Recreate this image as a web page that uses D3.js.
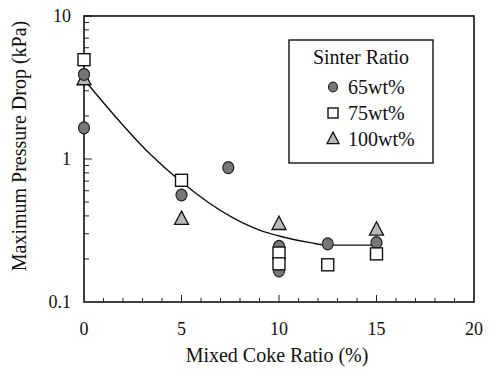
<!DOCTYPE html>
<html>
<head>
<meta charset="utf-8">
<script src="https://cdn.jsdelivr.net/npm/d3@7"></script>
<style>
  body { margin: 0; background: #fff; }
</style>
</head>
<body>
<div id="chart"></div>
<script>
// values
let xTicks = [0, 5, 10, 15, 20]
let yTicks = [0.1, 1, 10]
let seriesNames = ['65wt%', '75wt%', '100wt%']

let coke65 = [0, 0, 5, 7.4, 10, 10, 12.5, 15]
let drop65 = [3.9, 1.65, 0.56, 0.87, 0.245, 0.165, 0.255, 0.26]

let coke75 = [0, 5, 10, 10, 12.5, 15]
let drop75 = [4.95, 0.71, 0.22, 0.185, 0.182, 0.217]

let coke100 = [0, 5, 10, 15]
let drop100 = [3.6, 0.38, 0.35, 0.32]

let fitX = [0, 3.4, 5, 7.6, 9, 10.2, 11.6, 12.5, 15]
let fitY = [3.6, 1.08, 0.69, 0.39, 0.318, 0.285, 0.26, 0.25, 0.25]

let svgWidth = 492
let svgHeight = 369
let padding = { left: 84, right: 18, top: 16, bottom: 67 }
let serif = "'Liberation Serif', 'Times New Roman', serif"

let svg = d3.select('#chart').append('svg')
    .attr('width', svgWidth)
    .attr('height', svgHeight)
    .style('font-family', serif)

let x = d3.scaleLinear()
    .domain([0, 20])
    .range([padding.left, svgWidth - padding.right])
let y = d3.scaleLog()
    .domain([0.1, 10])
    .range([svgHeight - padding.bottom, padding.top])

// inward ticks on the bottom axis, every 1 %
let minorX = d3.range(1, 20)
svg.append('g')
    .selectAll('line')
    .data(minorX)
    .enter()
    .append('line')
    .attr('x1', d => x(d))
    .attr('x2', d => x(d))
    .attr('y1', y(0.1))
    .attr('y2', d => y(0.1) - (d % 5 == 0 ? 7 : 4))
    .attr('stroke', '#222')
    .attr('stroke-width', 1)

// inward log ticks on the left axis
let minorY = []
;[0.1, 1].forEach(dec => {
    for (let k = 2; k <= 10; k++) minorY.push(dec * k)
})
svg.append('g')
    .selectAll('line')
    .data(minorY)
    .enter()
    .append('line')
    .attr('x1', x(0))
    .attr('x2', d => x(0) + (Math.abs(d - 1) < 1e-9 || Math.abs(d - 10) < 1e-9 ? 8 : 5))
    .attr('y1', d => y(d))
    .attr('y2', d => y(d))
    .attr('stroke', '#222')
    .attr('stroke-width', 1)

// frame
svg.append('rect')
    .attr('x', x(0))
    .attr('y', y(10))
    .attr('width', x(20) - x(0))
    .attr('height', y(0.1) - y(10))
    .attr('fill', 'none')
    .attr('stroke', '#111')
    .attr('stroke-width', 1.6)

// tick labels
svg.append('g')
    .selectAll('text')
    .data(xTicks)
    .enter()
    .append('text')
    .attr('x', d => x(d))
    .attr('y', 335)
    .attr('text-anchor', 'middle')
    .attr('font-size', 18)
    .attr('fill', '#111')
    .text(d => d)

svg.append('g')
    .selectAll('text')
    .data(yTicks)
    .enter()
    .append('text')
    .attr('x', 71)
    .attr('y', d => y(d) + 6)
    .attr('text-anchor', 'end')
    .attr('font-size', 18)
    .attr('fill', '#111')
    .text(d => d)

// axis titles
svg.append('text')
    .attr('x', 277)
    .attr('y', 362)
    .attr('text-anchor', 'middle')
    .attr('font-size', 20)
    .attr('fill', '#111')
    .text('Mixed Coke Ratio (%)')

svg.append('g')
    .attr('transform', `translate(26, 146) rotate(-90)`)
    .append('text')
    .attr('text-anchor', 'middle')
    .attr('font-size', 20)
    .attr('fill', '#111')
    .text('Maximum Pressure Drop (kPa)')

// fitted curve
let line = d3.line()
    .x((d, i) => x(fitX[i]))
    .y(d => y(d))
    .curve(d3.curveMonotoneX)
svg.append('path')
    .attr('d', line(fitY))
    .attr('fill', 'none')
    .attr('stroke', '#111')
    .attr('stroke-width', 1.4)

// marker drawers
function drawCircle(g, cx, cy, r) {
    g.append('ellipse')
        .attr('cx', cx).attr('cy', cy)
        .attr('rx', r).attr('ry', r * 1.08)
        .attr('fill', '#777')
        .attr('stroke', '#222')
        .attr('stroke-width', 1.2)
}
function drawSquare(g, cx, cy, s) {
    g.append('rect')
        .attr('x', cx - s / 2).attr('y', cy - s / 2)
        .attr('width', s).attr('height', s)
        .attr('fill', '#fff')
        .attr('stroke', '#111')
        .attr('stroke-width', 1.4)
}
function drawTriangle(g, cx, cy, s) {
    let h = s * 0.95
    g.append('path')
        .attr('d', `M${cx},${cy - h * 0.6} L${cx + s / 2},${cy + h * 0.4} L${cx - s / 2},${cy + h * 0.4} Z`)
        .attr('fill', '#b8b8b8')
        .attr('stroke', '#111')
        .attr('stroke-width', 1.3)
}

let marks = svg.append('g')
coke100.forEach((d, i) => drawTriangle(marks, x(d), y(drop100[i]), 14))
coke65.forEach((d, i) => drawCircle(marks, x(d), y(drop65[i]), 5.5))
coke75.forEach((d, i) => drawSquare(marks, x(d), y(drop75[i]), 12))

// legend
let legend = svg.append('g')
legend.append('rect')
    .attr('x', 289).attr('y', 40)
    .attr('width', 144).attr('height', 123)
    .attr('fill', '#fff')
    .attr('stroke', '#111')
    .attr('stroke-width', 1.4)
legend.append('text')
    .attr('x', 361).attr('y', 64)
    .attr('text-anchor', 'middle')
    .attr('font-size', 20)
    .attr('fill', '#111')
    .text('Sinter Ratio')

let rowY = [87, 113, 139]
drawCircle(legend, 333, rowY[0], 4.5)
drawSquare(legend, 333, rowY[1], 10)
drawTriangle(legend, 333, rowY[2], 12)
legend.selectAll('.lab')
    .data(seriesNames)
    .enter()
    .append('text')
    .attr('x', 348)
    .attr('y', (d, i) => rowY[i] + 7)
    .attr('font-size', 20)
    .attr('fill', '#111')
    .text(d => d)
</script>
</body>
</html>
